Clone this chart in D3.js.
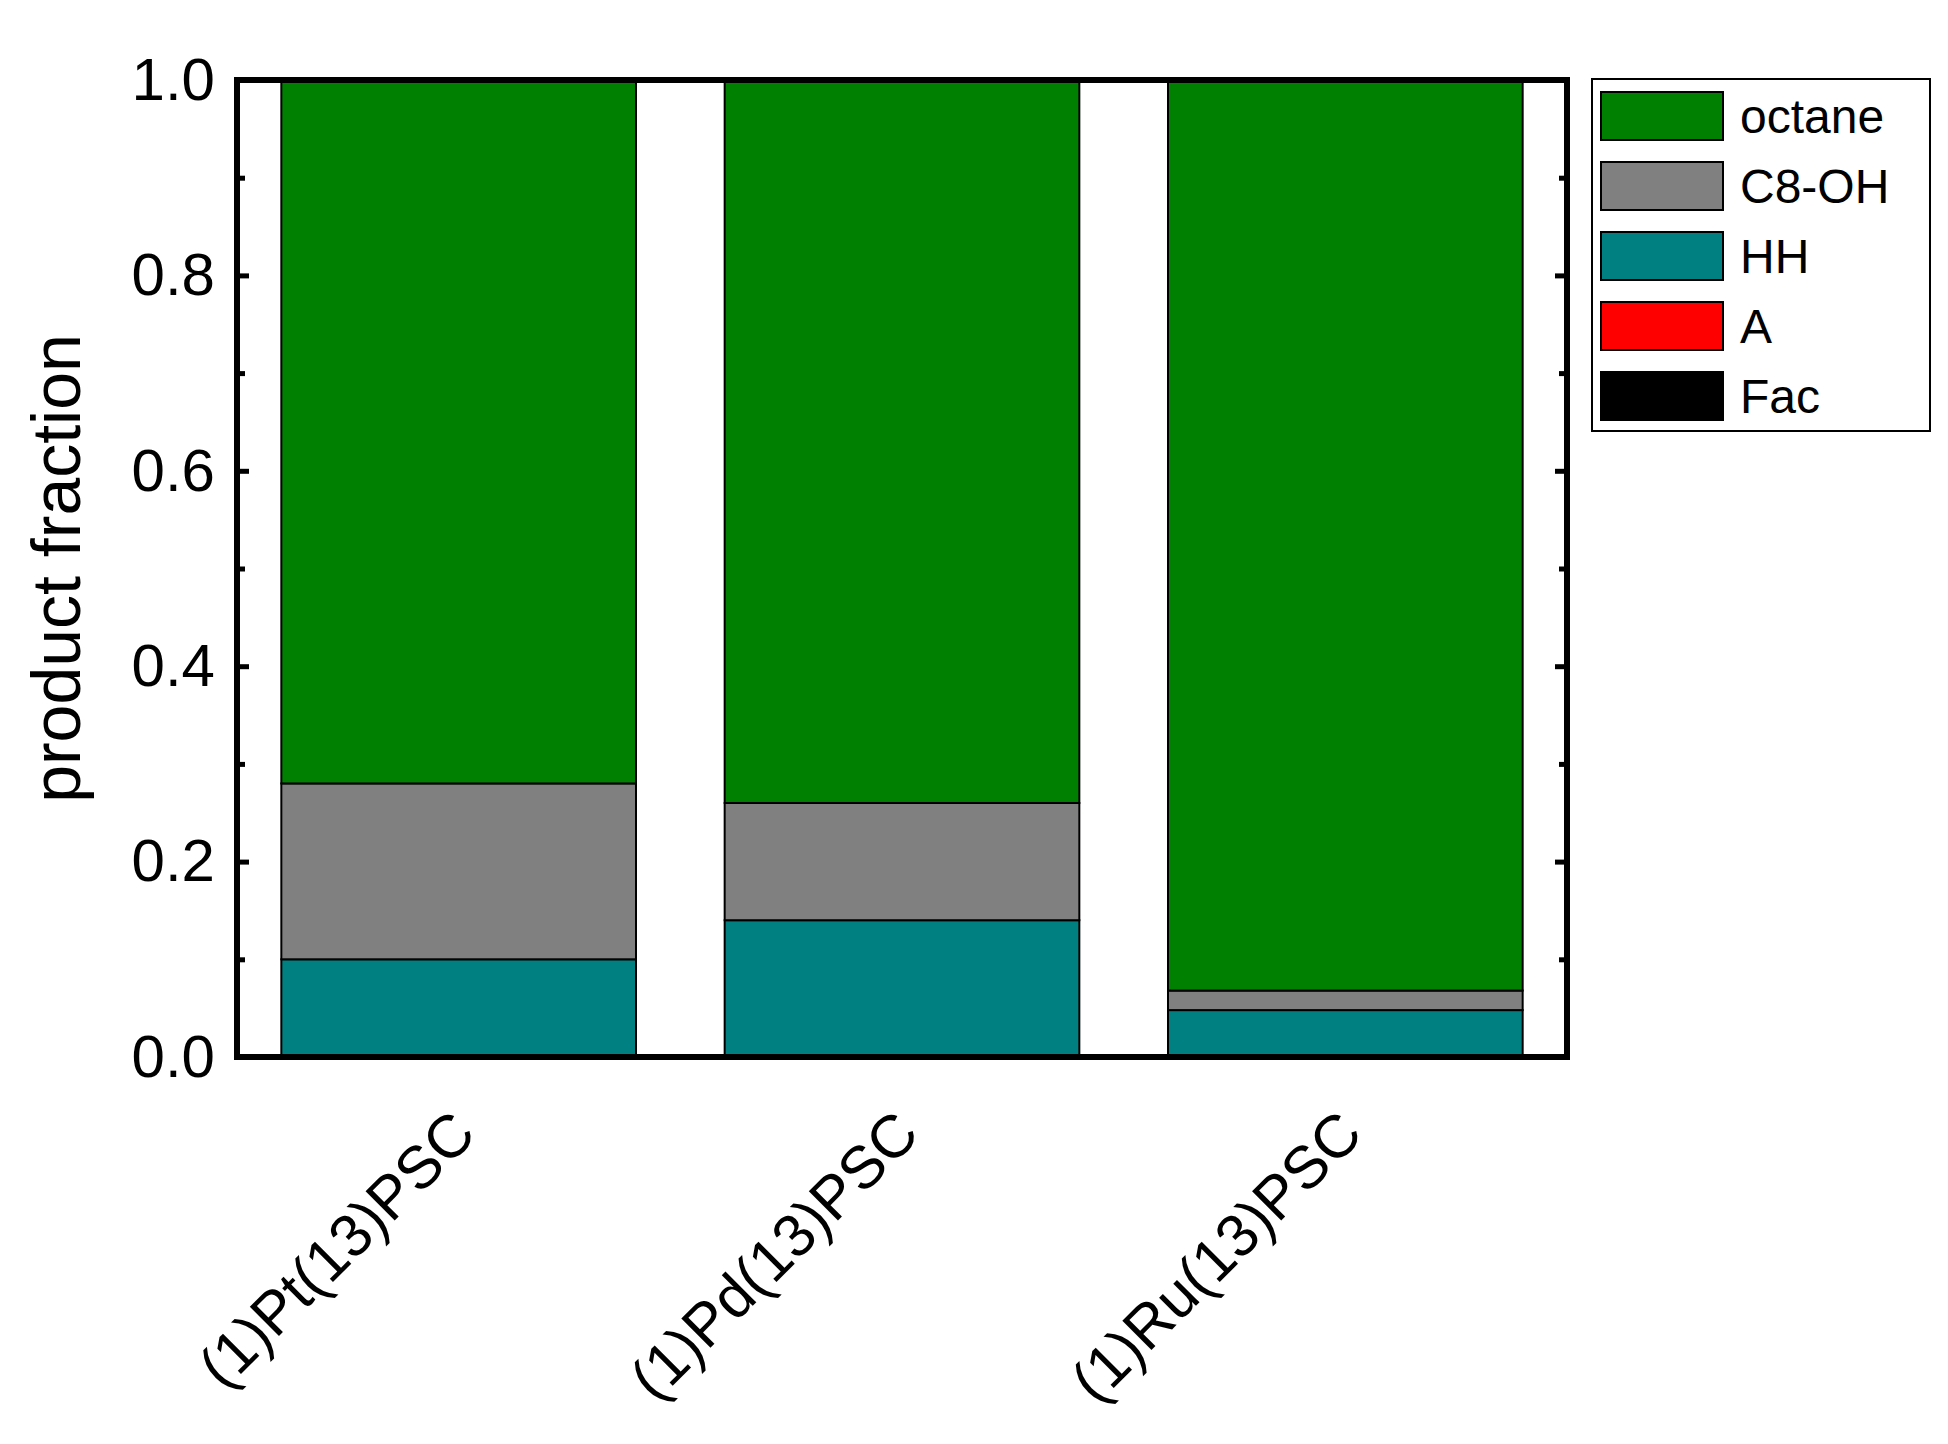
<!DOCTYPE html><html><head><script src="https://cdn.jsdelivr.net/npm/d3@7"></script>
<style>body{margin:0;background:#fff}</style></head><body><svg id="c" width="1948" height="1444"></svg><script>
const categories=["(1)Pt(13)PSC","(1)Pd(13)PSC","(1)Ru(13)PSC"];
const series=["HH","C8-OH","octane","A","Fac"];
const HH=[0.10,0.14,0.048];
const C8OH=[0.18,0.12,0.02];
const octane=[0.72,0.74,0.932];
const A=[0,0,0];
const Fac=[0,0,0];
const yTicks=[0,0.2,0.4,0.6,0.8,1.0];
const legendOrder=["octane","C8-OH","HH","A","Fac"];
const colors={"octane":"#008000","C8-OH":"#808080","HH":"#008080","A":"#ff0000","Fac":"#000000"};
const vals={"HH":HH,"C8-OH":C8OH,"octane":octane,"A":A,"Fac":Fac};
const rows=categories.map((c,i)=>{const o={cat:c};series.forEach(s=>o[s]=vals[s][i]);return o;});
const L=237,R=1567,T=80,B=1057;
const svg=d3.select("#c");
const x=d3.scaleBand().domain(categories).range([L,R]).paddingInner(0.2).paddingOuter(0.1);
const y=d3.scaleLinear().domain([0,1]).range([B,T]);
const st=d3.stack().keys(series)(rows);
st.forEach(layer=>{svg.append("g").selectAll("rect").data(layer).join("rect")
 .attr("x",d=>x(d.data.cat)).attr("width",x.bandwidth())
 .attr("y",d=>y(d[1])).attr("height",d=>y(d[0])-y(d[1]))
 .attr("fill",colors[layer.key]).attr("stroke","#000").attr("stroke-width",d=>d[1]-d[0]>0?2:0);});
const font="Arial, Liberation Sans, sans-serif";
const minor=d3.range(0.1,1,0.2);
const ax=svg.append("g").attr("transform",`translate(${L},0)`).call(d3.axisLeft(y).tickValues(yTicks).tickFormat(d3.format(".1f")).tickSizeInner(-12).tickSizeOuter(0).tickPadding(22));
ax.selectAll("text").attr("font-size",60).attr("font-family",font).attr("fill","#000");
ax.selectAll("line").attr("stroke-width",5);ax.select(".domain").remove();
svg.append("g").attr("transform",`translate(${L},0)`).call(d3.axisLeft(y).tickValues(minor).tickSize(-8).tickFormat("")).call(g=>{g.select(".domain").remove();g.selectAll("line").attr("stroke-width",5);});
svg.append("g").attr("transform",`translate(${R},0)`).call(d3.axisRight(y).tickValues(yTicks).tickSize(-12).tickFormat("")).call(g=>{g.select(".domain").remove();g.selectAll("line").attr("stroke-width",5);});
svg.append("g").attr("transform",`translate(${R},0)`).call(d3.axisRight(y).tickValues(minor).tickSize(-8).tickFormat("")).call(g=>{g.select(".domain").remove();g.selectAll("line").attr("stroke-width",5);});
svg.append("rect").attr("x",L).attr("y",T).attr("width",R-L).attr("height",B-T).attr("fill","none").attr("stroke","#000").attr("stroke-width",6);
svg.append("text").attr("transform",`translate(80,${(T+B)/2}) rotate(-90)`).attr("text-anchor","middle").attr("font-size",68).attr("font-family",font).text("product fraction");
categories.forEach(c=>{const cx=x(c)+x.bandwidth()/2;
 svg.append("text").attr("transform",`translate(${cx-10},${B+50}) rotate(-45)`).attr("text-anchor","end").attr("dy","0.7em").attr("font-size",60).attr("font-family",font).text(c);});
const lg=svg.append("g");
lg.append("rect").attr("x",1592).attr("y",79).attr("width",338).attr("height",352).attr("fill","#fff").attr("stroke","#000").attr("stroke-width",2);
legendOrder.forEach((s,i)=>{const yy=92+i*70;
 lg.append("rect").attr("x",1601).attr("y",yy).attr("width",122).attr("height",48).attr("fill",colors[s]).attr("stroke","#000").attr("stroke-width",2);
 lg.append("text").attr("x",1740).attr("y",yy+24).attr("dy","0.35em").attr("font-size",48).attr("font-family",font).text(s);});
</script></body></html>
